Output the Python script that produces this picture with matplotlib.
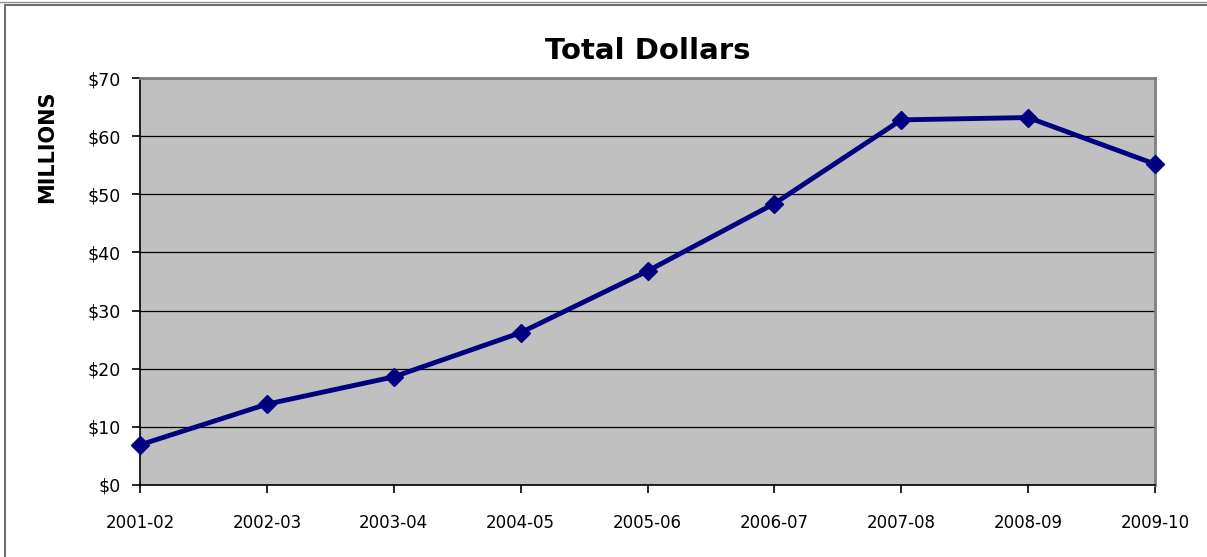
import matplotlib.pyplot as plt
from matplotlib.lines import Line2D

# data
years = ["2001-02", "2002-03", "2003-04", "2004-05", "2005-06",
         "2006-07", "2007-08", "2008-09", "2009-10"]
dollars = [6.9, 13.9, 18.6, 26.2, 36.8, 48.4, 62.8, 63.2, 55.2]
yticks = [0, 10, 20, 30, 40, 50, 60, 70]

fig = plt.figure(figsize=(12.07, 5.57), dpi=100)
ax = fig.add_axes([140 / 1207, 1 - 485 / 557, 1015 / 1207, 407 / 557])

ax.set_facecolor("#C0C0C0")
x = list(range(len(years)))
ax.plot(x, dollars, color="#000080", linewidth=3.5, marker="D",
        markersize=9, zorder=3, clip_on=False)

ax.set_xlim(0, len(years) - 1)
ax.set_ylim(0, 70)
ax.set_xticks(x)
ax.set_xticklabels(years, fontsize=12)
ax.set_yticks(yticks)
ax.set_yticklabels([f"${v}" for v in yticks], fontsize=12.5)
ax.tick_params(axis="both", direction="out", length=6, width=1.2, color="black")
ax.tick_params(axis="x", pad=15)
ax.tick_params(axis="y", pad=8)

ax.grid(axis="y", color="black", linewidth=0.9)
ax.set_axisbelow(True)

for side in ("left", "bottom"):
    ax.spines[side].set_color("black")
    ax.spines[side].set_linewidth(1.2)
for side in ("top", "right"):
    ax.spines[side].set_color("#808080")
    ax.spines[side].set_linewidth(2)

ax.set_title("Total Dollars", fontsize=21, fontweight="bold", pad=14)
fig.text(47 / 1207, 1 - 147 / 557, "MILLIONS", rotation=90, fontsize=15,
         fontweight="bold", ha="center", va="center")

# outer frame
fig.add_artist(Line2D([5 / 1207, 5 / 1207], [0, 1 - 5 / 557],
                      transform=fig.transFigure, color="#707070", linewidth=1.5))
fig.add_artist(Line2D([5 / 1207, 1], [1 - 5 / 557, 1 - 5 / 557],
                      transform=fig.transFigure, color="#707070", linewidth=1.5))
fig.add_artist(Line2D([0, 1], [1 - 2 / 557, 1 - 2 / 557],
                      transform=fig.transFigure, color="#909090", linewidth=1))

fig.savefig("out.png", dpi=100)
